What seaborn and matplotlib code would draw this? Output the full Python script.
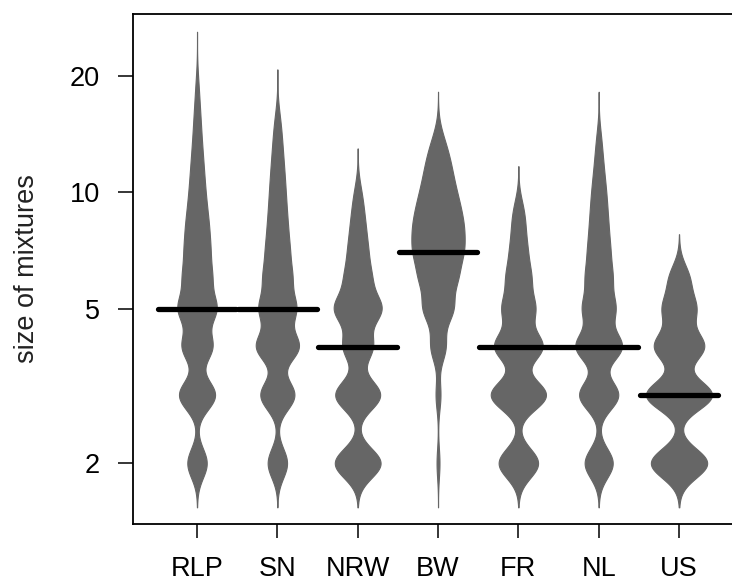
import numpy as np
import pandas as pd
import matplotlib
matplotlib.use("Agg")
import matplotlib.pyplot as plt
from matplotlib.ticker import FixedLocator, FixedFormatter, NullLocator
import seaborn as sns

# regions in plotting order
REGIONS = ["RLP", "SN", "NRW", "BW", "FR", "NL", "US"]
SMALLEST_SIZE = 2

# number of mixtures of size 2, 3, 4, ... found in each region
COUNTS_RLP = [40, 74, 61, 73, 48, 37, 30, 22, 16, 13, 10, 8, 6, 5, 4, 3, 2, 2, 1]
COUNTS_SN = [40, 70, 86, 70, 48, 35, 26, 20, 16, 13, 10, 8, 6, 5, 3]
COUNTS_NRW = [92, 90, 58, 89, 44, 29, 20, 13, 9]
COUNTS_BW = [6, 10, 30, 56, 62, 72, 64, 50, 36, 26, 21, 14, 8]
COUNTS_FR = [86, 120, 103, 66, 45, 28, 18, 16]
COUNTS_NL = [62, 86, 100, 66, 48, 35, 26, 20, 16, 11, 8, 5, 5]
COUNTS_US = [108, 126, 94, 60, 36]

Y_TICKS = [2, 5, 10, 20]
Y_LABEL = "size of mixtures"

BEAN_COLOR = "#666666"
BANDWIDTH = 0.038  # common kernel bandwidth, log10 units


def expand(region, counts):
    sizes = np.arange(SMALLEST_SIZE, SMALLEST_SIZE + len(counts))
    return pd.DataFrame({"region": region, "size": np.repeat(sizes, counts)})


def fixed_bw(kde):
    # same bandwidth for every bean, like beanplot
    return BANDWIDTH / kde.dataset.std(ddof=1)


all_counts = [COUNTS_RLP, COUNTS_SN, COUNTS_NRW, COUNTS_BW, COUNTS_FR, COUNTS_NL, COUNTS_US]
df = pd.concat([expand(r, c) for r, c in zip(REGIONS, all_counts)], ignore_index=True)

sns.set_theme(style="ticks")
plt.rcParams["font.family"] = ["Liberation Sans", "DejaVu Sans"]

fig = plt.figure(figsize=(7.32, 5.86), dpi=100)
ax = fig.add_axes([133 / 732, 62 / 586, 600 / 732, 510 / 586])

sns.violinplot(
    data=df, x="region", y="size", order=REGIONS, log_scale=True,
    bw_method=fixed_bw, cut=3, gridsize=600, inner=None,
    density_norm="area", width=0.82, color=BEAN_COLOR,
    linecolor=BEAN_COLOR, linewidth=0.8, saturation=1, ax=ax,
)

# median bean lines
for i, region in enumerate(REGIONS):
    med = np.median(df.loc[df["region"] == region, "size"])
    ax.plot([i - 0.49, i + 0.49], [med, med], color="black", lw=3.8,
            solid_capstyle="round", zorder=3)

ax.set_xlim(-0.797, 6.672)
ax.set_ylim(1.393, 28.9)
ax.yaxis.set_major_locator(FixedLocator(Y_TICKS))
ax.yaxis.set_major_formatter(FixedFormatter([str(t) for t in Y_TICKS]))
ax.yaxis.set_minor_locator(NullLocator())

for side in ["left", "right", "top", "bottom"]:
    ax.spines[side].set_visible(True)
    ax.spines[side].set_linewidth(1.3)
    ax.spines[side].set_color("black")

ax.tick_params(axis="y", length=11, width=1.1, pad=13, labelsize=19.5, colors="black")
ax.tick_params(axis="x", length=10, width=1.1, pad=13, labelsize=19.5, colors="black")
ax.set_xlabel("")
ax.set_ylabel(Y_LABEL, fontsize=19.5, color="#222222")
ax.yaxis.set_label_coords(-0.155, 0.5)

fig.savefig("out.png", dpi=100)
